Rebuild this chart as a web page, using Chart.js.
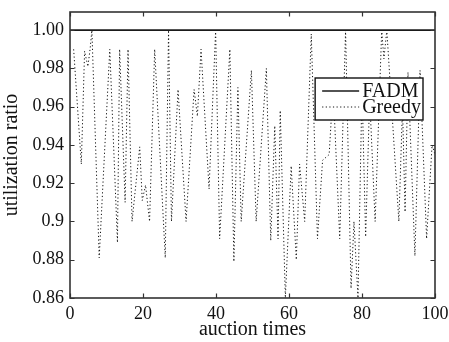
<!DOCTYPE html>
<html><head><meta charset="utf-8">
<script src="https://cdn.jsdelivr.net/npm/chart.js@4/dist/chart.umd.min.js"></script>
<style>html,body{margin:0;padding:0;background:#fff}</style>
</head><body>
<canvas id="c" width="449" height="342" style="display:block;width:449px;height:342px"></canvas>
<script>
// ---- data ----
const auctionTimes = [1, 3.1, 4.0, 4.9, 5.5, 6.0, 8.0, 10.9, 13.0, 13.6, 15.1, 15.9, 17.0, 19.1, 19.8, 20.7, 21.8, 23.2, 26.1, 27.0, 27.8, 29.6, 31.8, 34.0, 34.9, 35.9, 38.1, 39.9, 41.0, 43.8, 44.9, 46.0, 46.9, 49.7, 51.0, 53.8, 55.0, 56.1, 57.0, 57.6, 59.0, 60.6, 62.0, 62.9, 64.3, 66.1, 67.8, 69.2, 71.0, 72.1, 73.9, 75.5, 77.0, 77.8, 78.9, 80.0, 81.0, 82.1, 83.6, 85.4, 86.0, 86.8, 90.1, 91.1, 91.8, 92.6, 94.5, 95.9, 97.7, 99.2, 100];
const greedyRatio = [0.990, 0.930, 0.989, 0.981, 0.990, 1.000, 0.881, 0.990, 0.889, 0.990, 0.910, 0.990, 0.900, 0.939, 0.911, 0.919, 0.900, 0.990, 0.881, 1.000, 0.900, 0.969, 0.900, 0.969, 0.955, 0.990, 0.917, 1.000, 0.891, 0.990, 0.879, 0.970, 0.900, 0.979, 0.900, 0.980, 0.890, 0.950, 0.891, 0.958, 0.860, 0.929, 0.880, 0.930, 0.900, 0.998, 0.891, 0.932, 0.935, 0.970, 0.891, 1.000, 0.865, 0.900, 0.860, 0.970, 0.892, 0.965, 0.900, 1.000, 0.985, 1.000, 0.900, 0.960, 0.905, 0.978, 0.882, 0.979, 0.891, 0.940, 0.935];
const fadmTimes = [0, 100];
const fadmRatio = [1.00, 1.00];
const seriesNames = ['FADM', 'Greedy'];
const xTicks = [0, 20, 40, 60, 80, 100];
const yTicks = [0.86, 0.88, 0.90, 0.92, 0.94, 0.96, 0.98, 1.00];
const yTickLabels = ['0.86', '0.88', '0.9', '0.92', '0.94', '0.96', '0.98', '1.00'];
const xTitle = 'auction times';
const yTitle = 'utilization ratio';

const FONT = "'Liberation Serif','Times New Roman',serif";
const INK = '#111';
const AXIS = '#333';

const framePlugin = {
  id: 'frame',
  afterDatasetsDraw(chart) {
    const {ctx, chartArea: a, scales: {x, y}} = chart;
    ctx.save();
    ctx.strokeStyle = AXIS;
    ctx.lineWidth = 1.2;
    ctx.setLineDash([]);
    ctx.beginPath();
    const tl = 4.5;
    x.ticks.forEach(t => {
      const p = Math.round(x.getPixelForValue(t.value)) + 0.5;
      ctx.moveTo(p, a.bottom); ctx.lineTo(p, a.bottom - tl);
      ctx.moveTo(p, a.top); ctx.lineTo(p, a.top + tl);
    });
    y.ticks.forEach(t => {
      const p = Math.round(y.getPixelForValue(t.value)) + 0.5;
      ctx.moveTo(a.left, p); ctx.lineTo(a.left + tl, p);
      ctx.moveTo(a.right, p); ctx.lineTo(a.right - tl, p);
    });
    ctx.stroke();
    ctx.lineWidth = 1.6;
    ctx.strokeRect(a.left, a.top, a.right - a.left, a.bottom - a.top);

    // legend box inside the plot area (top right)
    ctx.font = '20px ' + FONT;
    const sets = chart.data.datasets;
    const tw = Math.max(...sets.map(d => ctx.measureText(d.label).width));
    const boxRight = a.right - 12;
    const textLeft = boxRight - 2 - tw;
    const lineEnd = textLeft - 3;
    const lineStart = lineEnd - 37;
    const boxLeft = lineStart - 7;
    const boxTop = a.top + 66;
    const boxH = 42;
    ctx.fillStyle = '#fff';
    ctx.fillRect(boxLeft, boxTop, boxRight - boxLeft, boxH);
    ctx.lineWidth = 1.4;
    ctx.strokeStyle = '#111';
    ctx.strokeRect(boxLeft, boxTop, boxRight - boxLeft, boxH);
    sets.forEach((d, i) => {
      const ry = boxTop + 13 + i * 16;
      ctx.beginPath();
      ctx.strokeStyle = d.borderColor;
      ctx.lineWidth = d.borderWidth;
      ctx.setLineDash(d.borderDash || []);
      ctx.moveTo(lineStart, ry); ctx.lineTo(lineEnd, ry);
      ctx.stroke();
      ctx.setLineDash([]);
      ctx.fillStyle = INK;
      ctx.textBaseline = 'middle';
      ctx.textAlign = 'left';
      ctx.fillText(d.label, textLeft, ry + 1);
    });
    ctx.restore();
  }
};

function zeroPad(s) { s.paddingTop = 0; s.paddingBottom = 0; s.paddingLeft = 0; s.paddingRight = 0; }

new Chart(document.getElementById('c').getContext('2d'), {
  type: 'line',
  data: {
    datasets: [
      {label: seriesNames[0], data: fadmTimes.map((t, i) => ({x: t, y: fadmRatio[i]})),
       borderColor: '#1a1a1a', borderWidth: 1.6, pointRadius: 0, tension: 0},
      {label: seriesNames[1], data: auctionTimes.map((t, i) => ({x: t, y: greedyRatio[i]})),
       borderColor: '#111', borderWidth: 1, borderDash: [1.2, 2.4], pointRadius: 0, tension: 0}
    ]
  },
  options: {
    responsive: false, animation: false, devicePixelRatio: 1,
    layout: {padding: {top: 12, right: 14, left: 0, bottom: 0}},
    plugins: {legend: {display: false}, tooltip: {enabled: false}},
    scales: {
      x: {
        type: 'linear', min: 0, max: 100,
        afterBuildTicks: s => { s.ticks = xTicks.map(v => ({value: v})); },
        grid: {display: false, drawTicks: false}, border: {display: false},
        ticks: {color: INK, font: {family: FONT, size: 18}, padding: 5, maxRotation: 0, autoSkip: false},
        title: {display: true, text: xTitle, color: INK, font: {family: FONT, size: 20}, padding: {top: 0, bottom: 0}},
        afterFit: s => { s.height = 44; zeroPad(s); }
      },
      y: {
        type: 'linear', min: 0.86, max: 1.0095,
        afterBuildTicks: s => { s.ticks = yTicks.map(v => ({value: v})); },
        grid: {display: false, drawTicks: false}, border: {display: false},
        ticks: {color: INK, font: {family: FONT, size: 18}, padding: 6, autoSkip: false,
          callback: v => { const i = yTicks.findIndex(t => Math.abs(t - v) < 1e-6); return i >= 0 ? yTickLabels[i] : ''; }},
        title: {display: true, text: yTitle, color: INK, font: {family: FONT, size: 20}, padding: {top: 0, bottom: 0}},
        afterFit: s => { s.width = 70; zeroPad(s); }
      }
    }
  },
  plugins: [framePlugin]
});
</script>
</body></html>
